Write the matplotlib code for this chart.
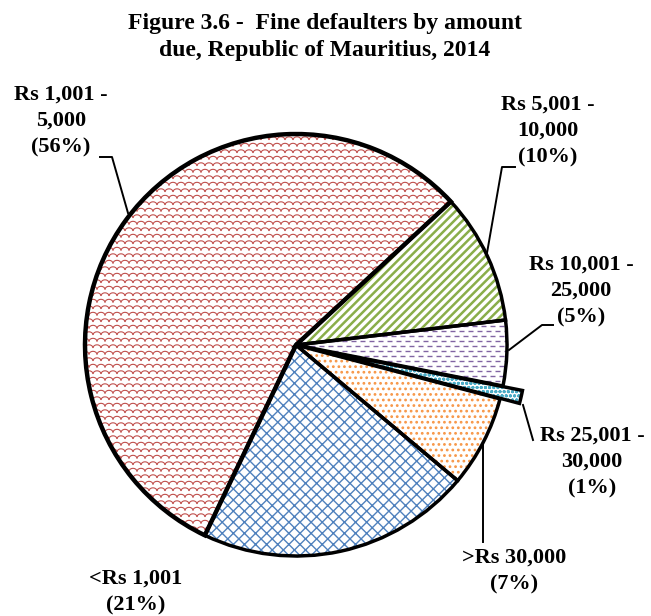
import numpy as np
import matplotlib.pyplot as plt
from matplotlib.collections import LineCollection

title = 'Figure 3.6 -  Fine defaulters by amount\ndue, Republic of Mauritius, 2014'
categories = ['<Rs 1,001', 'Rs 1,001 -\n5,000', 'Rs 5,001 -\n10,000',
              'Rs 10,001 -\n25,000', 'Rs 25,001 -\n30,000', '>Rs 30,000']
shares = [21, 56, 10, 5, 1, 7]

hatch_colors = ['#4F81BD', '#C0504D', '#8AAE4A', '#8064A2', '#4BACC6', '#F79646']
hatches = ['xxx', '', '////', '', 'oooo', '...']
hatch_widths = [1.0, 1.0, 1.8, 1.0, 1.0, 1.2]

# canvas in pixels: pie centre and radius
W, H = 651, 616
CX, CY, R = 296, H - 345, 211
explode = [0, 0, 0, 0, 20, 0]

# label centres and leader lines (pixel coords from top-left)
label_pos = [(136, 592), (61, 121), (548, 131), (581, 291), (592, 462), (514, 571)]
leaders = [None,
           [(100, 157), (112, 157), (128, 213)],
           [(515, 167), (502, 167), (487, 253)],
           [(553, 325), (542, 325), (509, 350)],
           [(533, 440), (523, 405)],
           [(483, 542), (483, 443)]]

plt.rcParams['font.family'] = 'Liberation Serif'
plt.rcParams['hatch.linewidth'] = 1.0

fig = plt.figure(figsize=(W / 100, H / 100), dpi=100)
ax = fig.add_axes([0, 0, 1, 1])

kw = dict(startangle=-40, counterclock=False, explode=explode, radius=R,
          center=(CX, CY), frame=True)
fills, _ = ax.pie(shares, colors=['white'] * 6, wedgeprops=dict(linewidth=0), **kw)
for w, c, h, hw in zip(fills, hatch_colors, hatches, hatch_widths):
    w.set_edgecolor(c)
    if h:
        w.set_hatch(h)
        if hasattr(w, 'set_hatch_linewidth'):
            w.set_hatch_linewidth(hw)

# red "scales" texture
cw, ch = 8, 6.5
t = np.linspace(0, np.pi, 9)
arcs = []
for j, y0 in enumerate(np.arange(CY - R - ch, CY + R + ch, ch)):
    off = (j % 2) * cw / 2
    for x0 in np.arange(CX - R - cw, CX + R + cw, cw):
        arcs.append(np.column_stack([x0 + off + cw / 2 * np.cos(t),
                                     y0 + cw / 2 * 0.8 * np.sin(t)]))
lc = LineCollection(arcs, colors=hatch_colors[1], linewidths=0.8, zorder=2)
lc.set_clip_path(fills[1])
ax.add_collection(lc)

# purple dashes texture
segs = []
for j, y0 in enumerate(np.arange(CY - R, CY + R, 5)):
    off = (j % 2) * 4.5
    for x0 in np.arange(CX - R - 9, CX + R + 9, 9):
        segs.append([(x0 + off, y0), (x0 + off + 5, y0)])
lc2 = LineCollection(segs, colors=hatch_colors[3], linewidths=1.0, zorder=2)
lc2.set_clip_path(fills[3])
ax.add_collection(lc2)

edges, _ = ax.pie(shares, wedgeprops=dict(facecolor='none', edgecolor='black',
                                          linewidth=2.5, zorder=3), **kw)
edges[1].set_linewidth(3.2)

for cat, s, (x, y), ld in zip(categories, shares, label_pos, leaders):
    ax.text(x, H - y, f'{cat}\n({s}%)', ha='center', va='center', fontsize=16,
            fontweight='bold', linespacing=1.4)
    if ld:
        ax.plot([p[0] for p in ld], [H - p[1] for p in ld], color='black', lw=1.4)

ax.text(325, H - 37, title, ha='center', va='center', fontsize=17,
        fontweight='bold', linespacing=1.4)

ax.set_xlim(0, W)
ax.set_ylim(0, H)
ax.axis('off')
fig.savefig('out.png', dpi=100)
